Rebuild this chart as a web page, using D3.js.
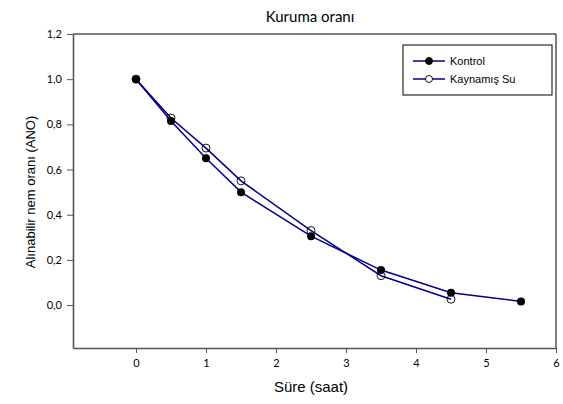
<!DOCTYPE html>
<html>
<head>
<meta charset="utf-8">
<script src="https://cdn.jsdelivr.net/npm/d3@7"></script>
<style>
  body { margin: 0; background: #fff; }
  .tick text { font-family: Lato, "DejaVu Sans", sans-serif; font-size: 11px; fill: #000; }
</style>
</head>
<body>
<div id="chart"></div>
<script>
const svgWidth = 563;
const svgHeight = 404;

const margin = { top: 34, right: 7, bottom: 56, left: 73 };
const width = svgWidth - margin.left - margin.right;
const height = svgHeight - margin.top - margin.bottom;

// data
const seriesNames = ["Kontrol", "Kaynamış Su"];
const kontrolX = [0, 0.5, 1, 1.5, 2.5, 3.5, 4.5, 5.5];
const kontrolY = [1.0, 0.815, 0.65, 0.50, 0.305, 0.155, 0.055, 0.016];
const suX = [0, 0.5, 1, 1.5, 2.5, 3.5, 4.5];
const suY = [1.0, 0.828, 0.695, 0.55, 0.33, 0.13, 0.026];
const xTicks = [0, 1, 2, 3, 4, 5, 6];
const yTicks = [0, 0.2, 0.4, 0.6, 0.8, 1.0, 1.2];

const svg = d3.select("#chart")
  .append("svg")
  .attr("width", svgWidth)
  .attr("height", svgHeight);

const chartGroup = svg.append("g")
  .attr("transform", `translate(${margin.left}, ${margin.top})`);

const x = d3.scaleLinear().domain([-0.9, 6]).range([0, width]);
const y = d3.scaleLinear().domain([-0.19, 1.2]).range([height, 0]);

// frame top / right
chartGroup.append("line")
  .attr("x1", 0).attr("x2", width).attr("y1", 0).attr("y2", 0)
  .attr("stroke", "#000").attr("stroke-width", 1);
chartGroup.append("line")
  .attr("x1", width).attr("x2", width).attr("y1", 0).attr("y2", height)
  .attr("stroke", "#000").attr("stroke-width", 1);

const fmt = d => d3.format(".1f")(d).replace(".", ",");

const xAxis = chartGroup.append("g")
  .attr("transform", `translate(0, ${height})`)
  .call(d3.axisBottom(x).tickValues(xTicks).tickFormat(d3.format("d")).tickSize(5).tickPadding(6).tickSizeOuter(0));

const yAxis = chartGroup.append("g")
  .call(d3.axisLeft(y).tickValues(yTicks).tickFormat(fmt).tickSize(6).tickPadding(5).tickSizeOuter(0));

[xAxis, yAxis].forEach(a => {
  a.select(".domain").attr("stroke", "#555").attr("stroke-width", 1.6);
  a.selectAll(".tick line").attr("stroke", "#555");
});

// lines
const line = d3.line().x(d => x(d[0])).y(d => y(d[1]));
const kontrol = kontrolX.map((v, i) => [v, kontrolY[i]]);
const su = suX.map((v, i) => [v, suY[i]]);

chartGroup.append("path")
  .datum(kontrol)
  .attr("d", line)
  .attr("fill", "none")
  .attr("stroke", "#00008b")
  .attr("stroke-width", 1.5);

chartGroup.append("path")
  .datum(su)
  .attr("d", line)
  .attr("fill", "none")
  .attr("stroke", "#00008b")
  .attr("stroke-width", 1.5);

chartGroup.selectAll("circle.k")
  .data(kontrol)
  .enter()
  .append("circle")
  .attr("cx", d => x(d[0]))
  .attr("cy", d => y(d[1]))
  .attr("r", 4)
  .attr("fill", "#000");

chartGroup.selectAll("circle.s")
  .data(su)
  .enter()
  .append("circle")
  .attr("cx", d => x(d[0]))
  .attr("cy", d => y(d[1]))
  .attr("r", 4)
  .attr("fill", "none")
  .attr("stroke", "#000")
  .attr("stroke-width", 0.9);

// legend
const legend = svg.append("g").attr("transform", "translate(403, 45)");
legend.append("rect")
  .attr("width", 149).attr("height", 50)
  .attr("fill", "#fff").attr("stroke", "#000").attr("stroke-width", 1);

seriesNames.forEach((name, i) => {
  const ly = 16 + i * 18;
  legend.append("line")
    .attr("x1", 10).attr("x2", 42).attr("y1", ly).attr("y2", ly)
    .attr("stroke", "#00008b").attr("stroke-width", 1.5);
  legend.append("circle")
    .attr("cx", 26).attr("cy", ly).attr("r", 3.5)
    .attr("fill", i === 0 ? "#000" : "#fff")
    .attr("stroke", "#000").attr("stroke-width", 0.9);
  legend.append("text")
    .attr("x", 47).attr("y", ly + 4)
    .style("font-family", "'Liberation Sans', Arial, sans-serif")
    .style("font-size", "11px")
    .text(name);
});

// titles
svg.append("text")
  .attr("x", 310).attr("y", 22)
  .attr("text-anchor", "middle")
  .style("font-family", "Lato, 'DejaVu Sans', sans-serif")
  .style("font-size", "15px")
  .text("Kuruma oranı");

svg.append("text")
  .attr("x", margin.left + x(2.5)).attr("y", 392)
  .attr("text-anchor", "middle")
  .style("font-family", "'Liberation Sans', Arial, sans-serif")
  .style("font-size", "15px")
  .text("Süre (saat)");

svg.append("text")
  .attr("transform", "rotate(-90)")
  .attr("x", -192).attr("y", 35)
  .attr("text-anchor", "middle")
  .style("font-family", "'Liberation Sans', Arial, sans-serif")
  .style("font-size", "13px")
  .text("Alınabilir nem oranı (ANO)");
</script>
</body>
</html>
